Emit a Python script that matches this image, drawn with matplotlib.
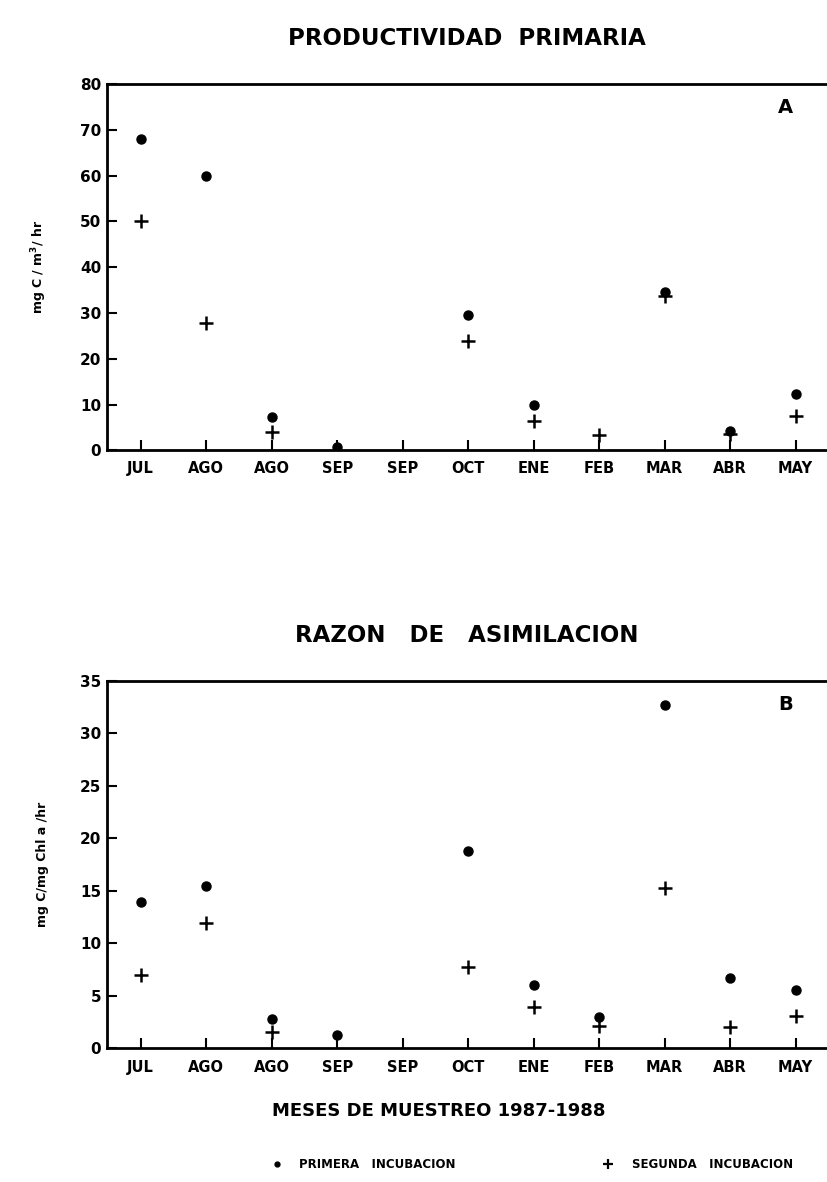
import matplotlib
matplotlib.use("Agg")
import matplotlib.pyplot as plt
from matplotlib.lines import Line2D
import numpy as np

# sampling months 1987-1988 (two visits in AGO and SEP)
months = ["JUL", "AGO", "AGO", "SEP", "SEP", "OCT", "ENE", "FEB", "MAR", "ABR", "MAY"]

# A: primary productivity, mg C / m3 / hr (nan = no point drawn)
prod_first = [68.0, 60.0, 7.3, 0.7, np.nan, 29.6, 10.0, np.nan, 34.6, 4.2, 12.4]
prod_second = [50.0, 27.8, 4.0, np.nan, np.nan, 23.8, 6.3, 3.3, 33.7, 3.5, 7.5]

# B: assimilation ratio, mg C / mg Chl a / hr
ratio_first = [13.9, 15.5, 2.8, 1.3, np.nan, 18.8, 6.0, 3.0, 32.7, 6.7, 5.6]
ratio_second = [7.0, 11.9, 1.6, np.nan, np.nan, 7.8, 3.9, 2.1, 15.3, 2.0, 3.1]

plt.rcParams["font.family"] = "DejaVu Sans"
plt.rcParams["font.weight"] = "bold"

fig = plt.figure(figsize=(8.27, 11.82), dpi=100)
axA = fig.add_axes([0.129, 0.619, 0.871, 0.310])
axB = fig.add_axes([0.129, 0.113, 0.871, 0.311])

x = np.arange(len(months))


def draw_panel(ax, first, second, ymax, ystep, ylabel, letter, title):
    ax.plot(x, first, "o", color="black", ms=6.5, ls="none")
    ax.plot(x, second, "+", color="black", ms=10, mew=1.8, ls="none")
    ax.set_xlim(-0.52, 10.48)
    ax.set_ylim(0, ymax)
    ax.set_yticks(np.arange(0, ymax + 1, ystep))
    ax.set_xticks(x)
    ax.set_xticklabels(months)
    ax.tick_params(direction="in", length=7, width=1.5, labelsize=10.5, pad=8)
    ax.tick_params(axis="y", pad=4, labelsize=11)
    for lab in ax.get_xticklabels() + ax.get_yticklabels():
        lab.set_fontweight("bold")
    for side in ["left", "bottom", "top"]:
        ax.spines[side].set_linewidth(2)
    ax.spines["right"].set_visible(False)
    ax.set_ylabel(ylabel, fontsize=9, fontweight="bold", labelpad=22)
    ax.text(9.85, ymax * 0.935, letter, fontsize=14, fontweight="bold",
            ha="center", va="center")
    ax.set_title(title, fontsize=16.5, fontweight="bold", pad=28)


draw_panel(axA, prod_first, prod_second, 80, 10, "mg C / m$^{3}$/ hr", "A",
           "PRODUCTIVIDAD  PRIMARIA")
draw_panel(axB, ratio_first, ratio_second, 35, 5, "mg C/mg Chl a /hr", "B",
           "RAZON   DE   ASIMILACION")

fig.text(0.53, 0.06, "MESES DE MUESTREO 1987-1988", ha="center", va="center",
         fontsize=13, fontweight="bold")

# legend drawn by hand so the two entries sit where the original has them
y_leg = 0.015
fig.add_artist(Line2D([0.335], [y_leg], marker="o", ms=3.5, color="black",
                      transform=fig.transFigure))
fig.text(0.362, y_leg, "PRIMERA   INCUBACION", fontsize=8.5,
         fontweight="bold", va="center")
fig.add_artist(Line2D([0.735], [y_leg], marker="+", ms=7, mew=1.6, color="black",
                      transform=fig.transFigure))
fig.text(0.764, y_leg, "SEGUNDA   INCUBACION", fontsize=8.5,
         fontweight="bold", va="center")

fig.savefig("out.png", dpi=100)
